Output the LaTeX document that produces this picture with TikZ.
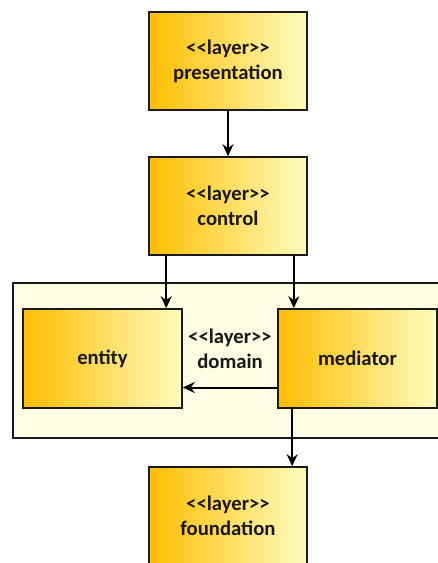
\documentclass[tikz,border=0pt]{standalone}
\usepackage{fontspec}
\setmainfont{Carlito}[Ligatures=TeXOff]
\usetikzlibrary{arrows.meta,calc}
\definecolor{goldL}{RGB}{255,190,0}
\definecolor{goldR}{RGB}{255,252,190}
\definecolor{cream}{RGB}{255,253,228}
\definecolor{edge}{RGB}{25,25,25}
\tikzset{
  layerbox/.style={draw=edge, line width=1.6pt, left color=goldL, right color=goldR,
    minimum width=158pt, minimum height=98pt, align=center, inner sep=0pt,
    font=\fontsize{20.7}{25}\selectfont\bfseries, text=black!90},
  conn/.style={line width=2pt, -{Stealth[length=12pt,width=11pt,inset=4pt]}},
  lbl/.style={align=center, font=\fontsize{20.7}{25}\selectfont\bfseries, text=black!90}
}
\begin{document}
\begin{tikzpicture}[x=1pt,y=-1pt]
\useasboundingbox (0,0) rectangle (438,563);
\clip (0,0) rectangle (438,563);
\fill[white] (0,0) rectangle (438,563);
% domain container
\node[draw=edge, line width=1.6pt, fill=cream, minimum width=440pt, minimum height=155pt, inner sep=0pt] (domainbox) at (233,360.5) {};
\node[layerbox] (presentation) at (228,61) {<<layer>>\\presentation};
\node[layerbox] (control) at (228,206) {<<layer>>\\control};
\node[layerbox, minimum width=159pt, minimum height=99pt] (entity) at (102.5,358.5) {entity};
\node[layerbox, minimum width=159pt, minimum height=99pt] (mediator) at (357.5,358.5) {mediator};
\node[layerbox] (foundation) at (228,516) {<<layer>>\\foundation};
\node[lbl] (domainlbl) at (230,349) {<<layer>>\\domain};
% connectors
\draw[conn] (presentation.south) -- (control.north);
\draw[conn] ([xshift=18pt]control.south west) -- ([xshift=18pt]control.south west |- entity.north);
\draw[conn] ([xshift=-14pt]control.south east) -- ([xshift=-14pt]control.south east |- mediator.north);
\draw[conn] ([yshift=-29pt]mediator.west) -- ([yshift=-29pt]mediator.west -| entity.east);
\draw[conn] ([xshift=15pt]mediator.south west) -- ([xshift=15pt]mediator.south west |- foundation.north);
\end{tikzpicture}
\end{document}
